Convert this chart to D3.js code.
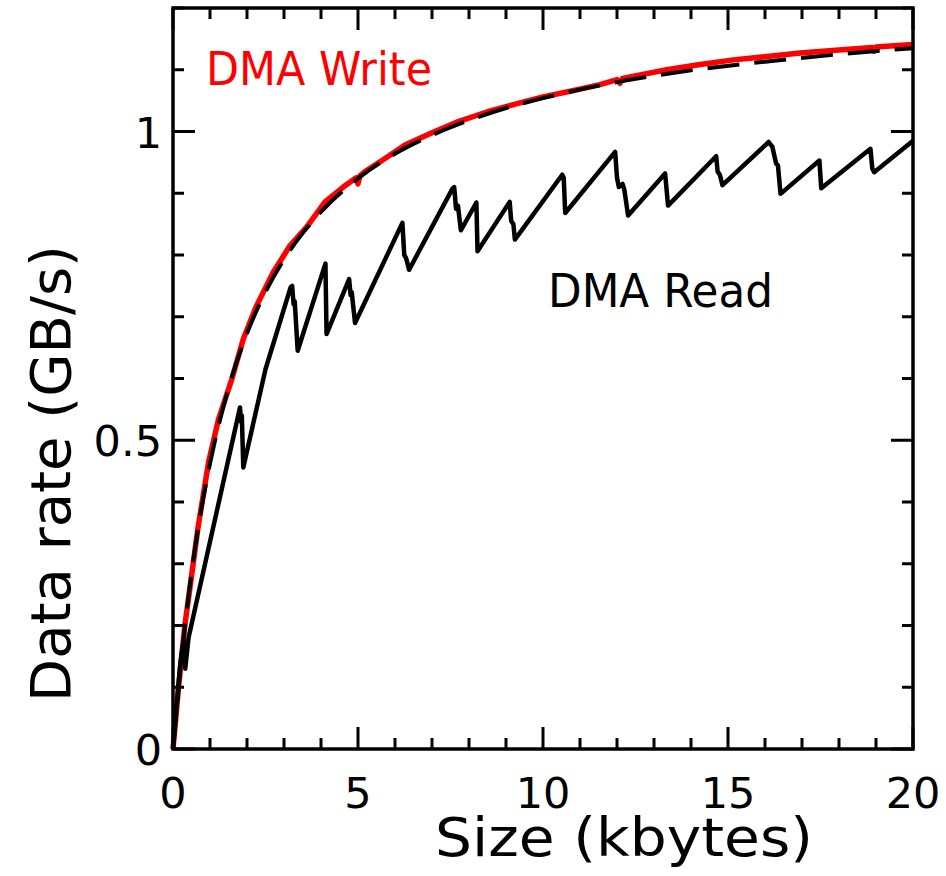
<!DOCTYPE html>
<html>
<head>
<meta charset="utf-8">
<script src="https://cdn.jsdelivr.net/npm/d3@7"></script>
<style>
  body { margin: 0; background: #fff; }
  svg text { font-family: "DejaVu Sans", sans-serif; }
</style>
</head>
<body>
<script>
// DMA Read (sawtooth vertices)
const readX = [0, 0.2, 0.28, 0.33, 0.42, 1.78, 1.81, 1.84, 1.86, 1.9, 2.5, 3.18, 3.22, 3.26, 3.29, 3.37,
  4.12, 4.15, 4.76, 4.8, 4.83, 4.92, 6.2, 6.25, 6.3, 6.38, 7.55, 7.6, 7.65, 7.7, 7.78, 8.2, 8.23,
  9.1, 9.14, 9.2, 9.24, 10.52, 10.56, 10.6, 11.95, 12.0, 12.05, 12.15, 12.2, 12.3, 13.3, 13.38,
  14.68, 14.72, 14.78, 14.85, 16.1, 16.2, 16.3, 16.35, 16.42, 17.47, 17.52, 18.85, 18.9, 18.95, 20];
const readY = [0, 0.14, 0.175, 0.13, 0.18, 0.545, 0.553, 0.53, 0.54, 0.456, 0.615, 0.748, 0.75, 0.72, 0.725, 0.645,
  0.786, 0.672, 0.761, 0.735, 0.74, 0.69, 0.852, 0.8, 0.795, 0.776, 0.907, 0.91, 0.875, 0.88, 0.84, 0.885, 0.806,
  0.886, 0.855, 0.85, 0.825, 0.93, 0.925, 0.868, 0.967, 0.925, 0.91, 0.915, 0.905, 0.864, 0.932, 0.88,
  0.96, 0.935, 0.93, 0.913, 0.983, 0.975, 0.948, 0.945, 0.899, 0.953, 0.908, 0.972, 0.94, 0.934, 0.985];

// DMA Write (measured)
const writeX = [0, 0.15, 0.32, 0.5, 0.68, 0.96, 1.23, 1.59, 1.9, 2.26, 2.71, 3.16, 3.61, 4.11, 4.6, 4.95, 5.0, 5.05,
  5.19, 5.7, 6.27, 7, 7.71, 8.5, 9.3, 10, 10.8, 11.54, 12.0, 12.08, 12.15, 13.34, 14.2, 15.14, 16.0, 16.95,
  18, 18.9, 18.95, 19.0, 20];
const writeY = [0, 0.1, 0.2, 0.28, 0.36, 0.464, 0.534, 0.599, 0.664, 0.718, 0.772, 0.815, 0.845, 0.886, 0.91, 0.925, 0.915, 0.928,
  0.935, 0.955, 0.978, 0.998, 1.016, 1.032, 1.045, 1.056, 1.066, 1.076, 1.084, 1.078, 1.086, 1.1, 1.108, 1.116, 1.121, 1.127,
  1.132, 1.136, 1.13, 1.137, 1.141];

// fitted model (dashed)
const fitX = [0, 0.25, 0.5, 0.75, 1, 1.5, 2, 2.5, 3, 3.5, 4, 5, 6, 7, 8, 9, 10, 12, 14, 16, 18, 20];
const fitY = [0, 0.16, 0.285, 0.383, 0.462, 0.584, 0.673, 0.74, 0.793, 0.835, 0.87, 0.924, 0.964, 0.994, 1.018, 1.038, 1.054, 1.08, 1.099, 1.113, 1.125, 1.135];

const xTicks = [0, 5, 10, 15, 20];
const yTicks = [0, 0.5, 1];
const yTickLabels = ["0", "0.5", "1"];

const W = 946, H = 876;
const mLeft = 173, mRight = 913, mTop = 8, mBottom = 749;

const svg = d3.select("body").append("svg").attr("width", W).attr("height", H);

const x = d3.scaleLinear().domain([0, 20]).range([mLeft, mRight]);
const y = d3.scaleLinear().domain([0, 1.2]).range([mBottom, mTop]);

const line = d3.line().x(d => x(d[0])).y(d => y(d[1]));

const plot = svg.append("g");

// write (red, thick, drawn first)
plot.append("path")
  .datum(d3.zip(writeX, writeY))
  .attr("d", line)
  .attr("fill", "none")
  .attr("stroke", "#ff0000")
  .attr("stroke-width", 5.5)
  .attr("stroke-linejoin", "round");

// fit dashed on top
plot.append("path")
  .datum(d3.zip(fitX, fitY))
  .attr("d", d3.line().curve(d3.curveMonotoneX).x(d => x(d[0])).y(d => y(d[1])))
  .attr("fill", "none")
  .attr("stroke", "#000")
  .attr("stroke-width", 4)
  .attr("stroke-dasharray", "32,15");

// read
plot.append("path")
  .datum(d3.zip(readX, readY))
  .attr("d", line)
  .attr("fill", "none")
  .attr("stroke", "#000")
  .attr("stroke-width", 4.5)
  .attr("stroke-linejoin", "round");

// ticks
const tk = svg.append("g").attr("stroke", "#000").attr("stroke-width", 3);
d3.range(0, 21, 1).forEach(v => {
  const len = v % 5 === 0 ? 22 : 11;
  tk.append("line").attr("x1", x(v)).attr("x2", x(v)).attr("y1", mBottom).attr("y2", mBottom - len);
  tk.append("line").attr("x1", x(v)).attr("x2", x(v)).attr("y1", mTop).attr("y2", mTop + len);
});
d3.range(0, 13, 1).forEach(i => {
  const v = i / 10;
  const len = i % 5 === 0 ? 22 : 11;
  tk.append("line").attr("y1", y(v)).attr("y2", y(v)).attr("x1", mLeft).attr("x2", mLeft + len);
  tk.append("line").attr("y1", y(v)).attr("y2", y(v)).attr("x1", mRight).attr("x2", mRight - len);
});

// frame
svg.append("rect")
  .attr("x", mLeft).attr("y", mTop)
  .attr("width", mRight - mLeft).attr("height", mBottom - mTop)
  .attr("fill", "none").attr("stroke", "#000").attr("stroke-width", 3.5);

// tick labels
svg.selectAll(".xl").data(xTicks).enter().append("text")
  .attr("x", d => x(d)).attr("y", 808)
  .attr("text-anchor", "middle")
  .attr("font-size", 43)
  .text(d => d);

svg.selectAll(".yl").data(yTicks).enter().append("text")
  .attr("x", 162).attr("y", d => y(d) + 16)
  .attr("text-anchor", "end")
  .attr("font-size", 43)
  .text((d, i) => yTickLabels[i]);

// axis titles
svg.append("text")
  .attr("x", 435).attr("y", 856)
  .attr("font-size", 54)
  .attr("textLength", 378).attr("lengthAdjust", "spacingAndGlyphs")
  .text("Size (kbytes)");

svg.append("text")
  .attr("transform", "translate(70,702) rotate(-90)")
  .attr("font-size", 55)
  .attr("textLength", 457).attr("lengthAdjust", "spacingAndGlyphs")
  .text("Data rate (GB/s)");

// labels
svg.append("text")
  .attr("x", 206).attr("y", 85)
  .attr("font-size", 47).attr("fill", "#ff0000")
  .attr("textLength", 226).attr("lengthAdjust", "spacingAndGlyphs")
  .text("DMA Write");

svg.append("text")
  .attr("x", 548).attr("y", 307)
  .attr("font-size", 47).attr("fill", "#000")
  .attr("textLength", 225).attr("lengthAdjust", "spacingAndGlyphs")
  .text("DMA Read");
</script>
</body>
</html>
